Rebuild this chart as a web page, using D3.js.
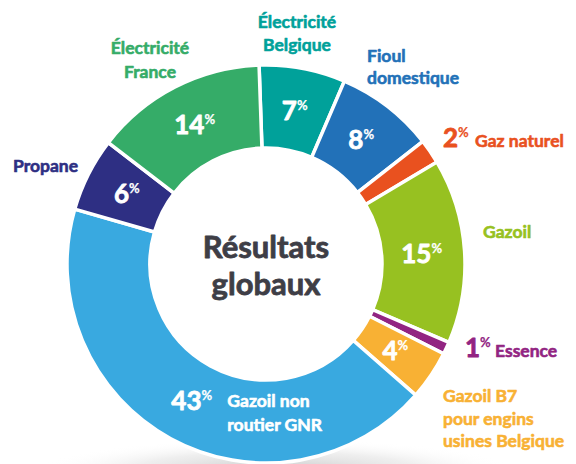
<!DOCTYPE html>
<html>
<head>
<meta charset="utf-8">
<script src="https://cdn.jsdelivr.net/npm/d3@7"></script>
<style>
  body { margin: 0; background: #fff; }
  svg { display: block; font-family: Lato, "Open Sans", sans-serif; font-weight: 700; }
  text { paint-order: stroke; stroke-linejoin: round; }
</style>
</head>
<body>
<svg id="chart" width="576" height="464"></svg>
<script>
// data, clockwise from the top
var categories = ["Électricité Belgique", "Fioul domestique", "Gaz naturel", "Gazoil", "Essence",
  "Gazoil B7 pour engins usines Belgique", "Gazoil non routier GNR", "Propane", "Électricité France"];
var shares = [7, 8, 2, 15, 1, 4, 43, 6, 14];
var colors = ["#00a19a", "#2271b8", "#e9511f", "#97c121", "#922482", "#f8b134", "#39a9e0", "#2e2f83", "#35ac68"];
var labelLines = [["Électricité", "Belgique"], ["Fioul", "domestique"], ["Gaz naturel"], ["Gazoil"], ["Essence"],
  ["Gazoil B7", "pour engins", "usines Belgique"], ["Gazoil non", "routier GNR"], ["Propane"], ["Électricité", "France"]];
var centerTitle = ["Résultats", "globaux"];

// where each name goes: x, first baseline, anchor, line step; pctOut = percentage printed outside
var labelLayout = [
  { x: 297, y: 28, anchor: "middle", step: 23 },
  { x: 367, y: 62, anchor: "start", step: 22 },
  { x: 475, y: 147, anchor: "start", step: 22, pctOut: 443 },
  { x: 483, y: 238, anchor: "start", step: 22 },
  { x: 495, y: 357, anchor: "start", step: 22, pctOut: 465 },
  { x: 443, y: 402, anchor: "start", step: 22.5 },
  { inside: true, step: 24 },
  { x: 13, y: 172, anchor: "start", step: 22 },
  { x: 150, y: 54, anchor: "middle", step: 24 }
];

var svg = d3.select("#chart");
var cx = 266, cy = 264, outerR = 199, innerR = 116;
var start = -2 * Math.PI / 180;

var data = shares.map(function(v, i) { return { name: categories[i], value: v, i: i }; });

var pie = d3.pie().sort(null).value(function(d) { return d.value; })
  .startAngle(start).endAngle(start + 2 * Math.PI);
var arc = d3.arc().innerRadius(innerR).outerRadius(outerR);
var labelArc = d3.arc().innerRadius(156).outerRadius(156);

// soft shadow under the ring
var grad = svg.append("defs").append("radialGradient").attr("id", "shadow");
grad.append("stop").attr("offset", "0%").attr("stop-color", "#a8a8a8").attr("stop-opacity", 0.65);
grad.append("stop").attr("offset", "60%").attr("stop-color", "#d0d0d0").attr("stop-opacity", 0.35);
grad.append("stop").attr("offset", "100%").attr("stop-color", "#ffffff").attr("stop-opacity", 0);
svg.append("ellipse").attr("cx", cx + 10).attr("cy", cy + outerR + 8).attr("rx", 240).attr("ry", 32)
  .attr("fill", "url(#shadow)");

var g = svg.append("g").attr("transform", "translate(" + cx + "," + cy + ")");
var arcs = pie(data);

g.selectAll("path").data(arcs).enter().append("path")
  .attr("d", arc)
  .attr("fill", function(d) { return colors[d.data.i]; })
  .attr("stroke", "#fff").attr("stroke-width", 3.5).attr("stroke-linejoin", "miter");

function pctText(sel, v) {
  sel.append("tspan").text(v).attr("font-size", 26);
  sel.append("tspan").text("%").attr("font-size", 13).attr("dy", -10).attr("stroke-width", 0.25);
}

function heavy(sel, col, w) {
  return sel.attr("fill", col).attr("stroke", col).attr("stroke-width", w);
}

arcs.forEach(function(d) {
  var i = d.data.i, lay = labelLayout[i];
  if (lay.pctOut) {
    var t = heavy(svg.append("text").attr("x", lay.pctOut).attr("y", lay.y), colors[i], 0.8);
    pctText(t, d.data.value);
  } else {
    var c = labelArc.centroid(d);
    var t2 = heavy(g.append("text").attr("x", lay.inside ? c[0] - 20 : c[0]).attr("y", c[1] + 9)
      .attr("text-anchor", lay.inside ? "start" : "middle"), "#fff", 0.8);
    pctText(t2, d.data.value);
    if (lay.inside) {
      labelLines[i].forEach(function(line, k) {
        heavy(g.append("text").attr("x", c[0] + 36).attr("y", c[1] + 6 + k * lay.step)
          .attr("font-size", 17.5), "#fff", 0.6).text(line);
      });
    }
  }
  if (!lay.inside) {
    labelLines[i].forEach(function(line, k) {
      heavy(svg.append("text").attr("x", lay.x).attr("y", lay.y + k * lay.step)
        .attr("text-anchor", lay.anchor).attr("font-size", 17.5), colors[i], 0.6).text(line);
    });
  }
});

centerTitle.forEach(function(line, k) {
  heavy(g.append("text").attr("x", 0).attr("y", -6 + k * 37)
    .attr("text-anchor", "middle").attr("font-size", 31), "#3e3e46", 0.8).text(line);
});
</script>
</body>
</html>
